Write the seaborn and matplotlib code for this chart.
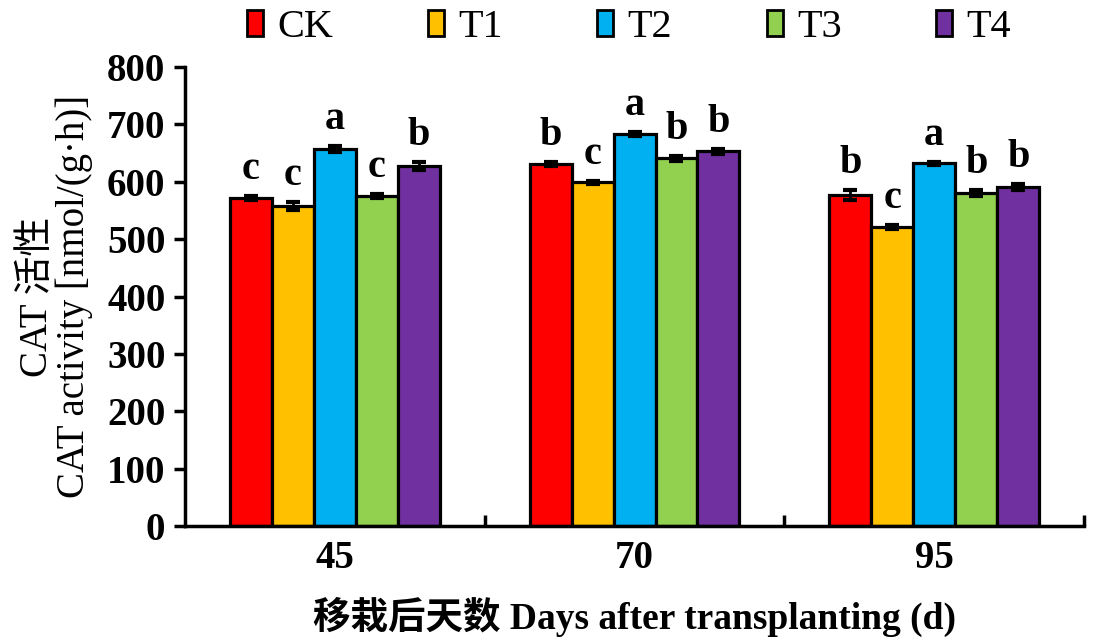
import matplotlib
matplotlib.use("Agg")
import matplotlib.pyplot as plt
import seaborn as sns
import pandas as pd
from matplotlib.patches import Patch
from matplotlib.ticker import FixedLocator

days = ["45", "70", "95"]
treatments = ["CK", "T1", "T2", "T3", "T4"]
colors = ["#FF0000", "#FFC000", "#00B0F0", "#92D050", "#7030A0"]

values = {
    "CK": [572, 631, 577],
    "T1": [557, 599, 521],
    "T2": [657, 683, 632],
    "T3": [575, 641, 580],
    "T4": [627, 653, 591],
}
errors = {
    "CK": [3, 3, 8],
    "T1": [7, 3, 3],
    "T2": [5, 3, 3],
    "T3": [4, 4, 5],
    "T4": [7, 4, 5],
}
letters = {
    "CK": ["c", "b", "b"],
    "T1": ["c", "c", "c"],
    "T2": ["a", "a", "a"],
    "T3": ["c", "b", "b"],
    "T4": ["b", "b", "b"],
}
yticks = [0, 100, 200, 300, 400, 500, 600, 700, 800]

rows = []
for t in treatments:
    for d, v in zip(days, values[t]):
        rows.append({"day": d, "treatment": t, "value": v})
df = pd.DataFrame(rows)

sns.set_theme(style="white")
fam = ["Liberation Serif", "Noto Sans CJK SC"]
plt.rcParams["font.family"] = fam
plt.rcParams["axes.unicode_minus"] = False
for k in ["text.color", "axes.labelcolor", "xtick.color", "ytick.color",
          "axes.edgecolor"]:
    plt.rcParams[k] = "black"

fig = plt.figure(figsize=(10.94, 6.44), dpi=100)
ax = fig.add_axes([0.169, 0.183, 0.822, 0.713])

sns.barplot(data=df, x="day", y="value", hue="treatment", order=days,
            hue_order=treatments, palette=colors, edgecolor="black",
            linewidth=2.3, width=0.7, errorbar=None, ax=ax, legend=False,
            saturation=1)

for t, cont in zip(treatments, ax.containers):
    for j, bar in enumerate(cont):
        xc = bar.get_x() + bar.get_width() / 2
        h = bar.get_height()
        e = errors[t][j]
        ax.errorbar(xc, h, yerr=e, fmt="none", ecolor="black",
                    elinewidth=2.0, capsize=5, capthick=3.0, zorder=5)
        ax.text(xc, h + e + 14, letters[t][j], ha="center", va="bottom",
                fontsize=29, fontweight="bold", family=fam, zorder=6)

ax.set_ylim(0, 800)
ax.set_xlim(-0.5, 2.5)
ax.set_yticks(yticks)
ax.set_yticklabels([str(v) for v in yticks], fontsize=28, fontweight="bold")
ax.set_xticks(range(len(days)))
ax.set_xticklabels(days, fontsize=28, fontweight="bold")
ax.tick_params(axis="x", which="major", length=0, pad=10)
ax.xaxis.set_minor_locator(FixedLocator([0.5, 1.5, 2.5]))
ax.tick_params(axis="x", which="minor", direction="in", length=8, width=2.5,
               bottom=True, color="black")
ax.tick_params(axis="y", which="major", direction="out", length=8, width=2.5,
               left=True, color="black", pad=6)

for s in ["top", "right"]:
    ax.spines[s].set_visible(False)
for s in ["left", "bottom"]:
    ax.spines[s].set_color("black")
    ax.spines[s].set_linewidth(2.5)

ax.set_ylabel("CAT 活性\nCAT activity [nmol/(g·h)]", fontsize=28,
              labelpad=10, linespacing=1.0)
ax.set_xlabel("移栽后天数 Days after transplanting (d)", fontsize=27,
              fontweight="bold", labelpad=14)

handles = [Patch(facecolor=c, edgecolor="black", linewidth=2.0) for c in colors]
fig.legend(handles, treatments, ncol=5, loc="center",
           bbox_to_anchor=(0.575, 0.957), frameon=False, fontsize=29,
           handlelength=0.4, handleheight=0.6, handletextpad=0.35,
           columnspacing=2.35, borderaxespad=0)

fig.savefig("out.png", dpi=100, facecolor="white")
